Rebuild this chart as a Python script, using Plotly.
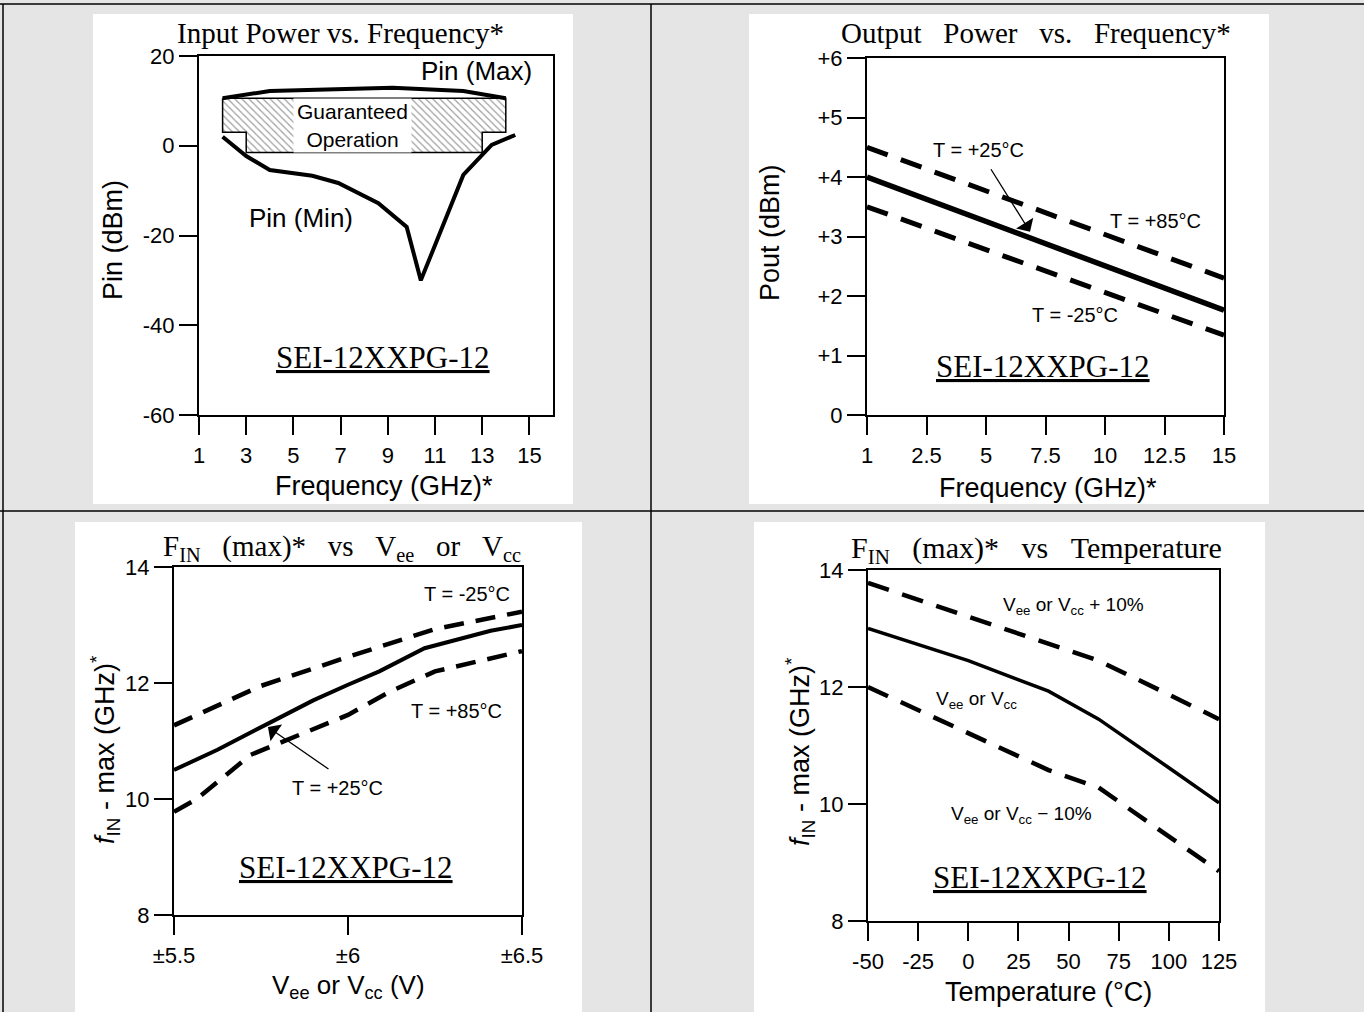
import numpy as np
import plotly.graph_objects as go

W, H = 1364, 1012
SANS = "Liberation Sans, Arial, sans-serif"
SERIF = "Liberation Serif, Times New Roman, serif"
NB = "\u00a0"
G3 = NB * 3

# ---------------- data ----------------
# Panel 1: Input Power vs. Frequency
p1_xticks = [1, 3, 5, 7, 9, 11, 13, 15]
p1_yticks = [20, 0, -20, -40, -60]
p1_max_freq = [2.0, 4.0, 9.2, 12.2, 14.0]
p1_max_pin = [10.6, 12.2, 12.9, 12.2, 10.6]
p1_min_freq = [2.0, 3.0, 4.0, 5.8, 6.9, 8.6, 9.8, 10.4, 12.2, 13.4, 14.4]
p1_min_pin = [2.0, -2.3, -5.4, -6.7, -8.3, -12.8, -18.1, -30.0, -6.5, 0.2, 2.4]
guar_freq = [2, 14, 14, 13, 13, 3, 3, 2, 2]
guar_pin = [10.6, 10.6, 3, 3, -1.5, -1.5, 3, 3, 10.6]

# Panel 2: Output Power vs. Frequency (equally spaced tick labels)
p2_tick_freq = [1, 2.5, 5, 7.5, 10, 12.5, 15]
p2_tick_text = ["1", "2.5", "5", "7.5", "10", "12.5", "15"]
p2_yticks = [0, 1, 2, 3, 4, 5, 6]
p2_ytext = ["0", "+1", "+2", "+3", "+4", "+5", "+6"]
p2_freq = [1, 15]
p2_t25 = [4.0, 1.76]
p2_t85 = [4.5, 2.3]
p2_tm25 = [3.5, 1.34]

# Panel 3: FIN(max) vs Vee or Vcc
p3_xticks = [5.5, 6.0, 6.5]
p3_xtext = ["±5.5", "±6", "±6.5"]
p3_yticks = [8, 10, 12, 14]
p3_v_m25 = [5.5, 5.75, 6.0, 6.25, 6.5]
p3_f_m25 = [11.27, 11.95, 12.45, 12.93, 13.23]
p3_v_25 = [5.5, 5.625, 5.78, 5.9, 6.0, 6.09, 6.22, 6.41, 6.5]
p3_f_25 = [10.5, 10.85, 11.33, 11.7, 11.97, 12.2, 12.6, 12.9, 13.0]
p3_v_85 = [5.5, 5.565, 5.72, 6.0, 6.12, 6.25, 6.5]
p3_f_85 = [9.78, 10.0, 10.76, 11.45, 11.85, 12.2, 12.55]

# Panel 4: FIN(max) vs Temperature
p4_xticks = [-50, -25, 0, 25, 50, 75, 100, 125]
p4_yticks = [8, 10, 12, 14]
p4_t_hi = [-50, 0, 40, 65, 100, 125]
p4_f_hi = [13.78, 13.2, 12.75, 12.45, 11.87, 11.45]
p4_t_nom = [-50, -25, 0, 40, 65, 100, 125]
p4_f_nom = [13.0, 12.73, 12.45, 11.93, 11.45, 10.62, 10.02]
p4_t_lo = [-50, 0, 40, 65, 100, 125]
p4_f_lo = [12.0, 11.22, 10.58, 10.28, 9.45, 8.85]

# ---------------- layout helpers ----------------
def PX(x):
    return x / W

def PY(y):
    return 1 - y / H

# plot-area boxes in pixels: left, right, top, bottom
BOX = {1: (199, 553, 56, 415), 2: (867, 1224, 58, 415),
       3: (174, 522, 567, 915), 4: (868, 1219, 570, 921)}
RANGES = {1: ([1, 16], [-60, 20]), 2: ([0, 6], [0, 6]),
          3: ([5.5, 6.5], [8, 14]), 4: ([-50, 125], [8, 14])}
p2_pos = list(range(len(p2_tick_freq)))
XT = {1: (p1_xticks, [str(v) for v in p1_xticks]),
      2: (p2_pos, p2_tick_text),
      3: (p3_xticks, p3_xtext),
      4: (p4_xticks, [str(v) for v in p4_xticks])}
YT = {1: (p1_yticks, [str(v) for v in p1_yticks]),
      2: (p2_yticks, p2_ytext),
      3: (p3_yticks, [str(v) for v in p3_yticks]),
      4: (p4_yticks, [str(v) for v in p4_yticks])}

def p2x(freqs):
    return list(np.interp(freqs, p2_tick_freq, p2_pos))

fig = go.Figure()

def ax(n):
    return "" if n == 1 else str(n)

def line_trace(x, y, n, width=4, dash=None):
    return go.Scatter(x=x, y=y, mode="lines", xaxis="x" + ax(n), yaxis="y" + ax(n),
                      line=dict(color="black", width=width, dash=dash),
                      hoverinfo="skip", showlegend=False)

# Panel 1 traces
fig.add_trace(go.Scatter(x=guar_freq, y=guar_pin, mode="lines", fill="toself",
                         fillcolor="white",
                         fillpattern=dict(shape="\\", fgcolor="#333333", bgcolor="white",
                                          size=5, solidity=0.22),
                         line=dict(width=0), hoverinfo="skip", showlegend=False))
fig.add_trace(line_trace(guar_freq, guar_pin, 1, width=1.5))
fig.add_trace(line_trace(p1_max_freq, p1_max_pin, 1, width=4))
fig.add_trace(line_trace(p1_min_freq, p1_min_pin, 1, width=4))

# Panel 2 traces
DASH2 = "22px,14px"
fig.add_trace(line_trace(p2x(p2_freq), p2_t85, 2, width=5, dash=DASH2))
fig.add_trace(line_trace(p2x(p2_freq), p2_t25, 2, width=5.5))
fig.add_trace(line_trace(p2x(p2_freq), p2_tm25, 2, width=5, dash=DASH2))

# Panel 3 traces
DASH3 = "20px,12px"
fig.add_trace(line_trace(p3_v_m25, p3_f_m25, 3, width=4.5, dash=DASH3))
fig.add_trace(line_trace(p3_v_25, p3_f_25, 3, width=4))
fig.add_trace(line_trace(p3_v_85, p3_f_85, 3, width=4.5, dash=DASH3))

# Panel 4 traces
DASH4 = "22px,14px"
fig.add_trace(line_trace(p4_t_hi, p4_f_hi, 4, width=4.5, dash=DASH4))
fig.add_trace(line_trace(p4_t_nom, p4_f_nom, 4, width=3.5))
fig.add_trace(line_trace(p4_t_lo, p4_f_lo, 4, width=4.5, dash=DASH4))

# Axes
tickfont = dict(family=SANS, size=22, color="black")
layout_axes = {}
for n in range(1, 5):
    l, r, t, b = BOX[n]
    xr, yr = RANGES[n]
    xv, xtxt = XT[n]
    yv, ytxt = YT[n]
    common = dict(showgrid=False, zeroline=False, tickwidth=2, tickcolor="black",
                  ticklen=18, tickmode="array", fixedrange=True, automargin=False)
    layout_axes["xaxis" + ax(n)] = dict(
        domain=[PX(l), PX(r)], range=xr, anchor="y" + ax(n), tickvals=xv, ticktext=xtxt,
        ticks="outside", showline=True, linecolor="black", linewidth=2, mirror=True,
        tickfont=tickfont, ticklabelstandoff=2, **common)
    layout_axes["yaxis" + ax(n)] = dict(
        domain=[PY(b), PY(t)], range=yr, anchor="x" + ax(n), tickvals=yv, ticktext=ytxt,
        ticks="outside", showline=True, linecolor="black", linewidth=2, mirror=True,
        tickfont=tickfont, ticklabelstandoff=0, **common)
    # overlay axes to draw the inner half of each cross tick
    layout_axes["xaxis" + str(n + 4)] = dict(
        overlaying="x" + ax(n), anchor="y" + ax(n), range=xr, tickvals=xv,
        ticks="inside", showticklabels=False, showline=False, **common)
    layout_axes["yaxis" + str(n + 4)] = dict(
        overlaying="y" + ax(n), anchor="x" + ax(n), range=yr, tickvals=yv,
        ticks="inside", showticklabels=False, showline=False, **common)

# Text annotations
def txt(x, y, text, size, family=SANS, angle=0, **kw):
    d = dict(x=PX(x), y=PY(y), xref="paper", yref="paper", text=text, showarrow=False,
             font=dict(family=family, size=size, color="black"),
             xanchor="center", yanchor="middle", textangle=angle)
    d.update(kw)
    return d

ann = [
    # panel 1
    txt(340, 33, "Input Power vs. Frequency*", 29, SERIF),
    txt(113, 240, "Pin (dBm)", 27, angle=-90),
    txt(384, 486, "Frequency (GHz)*", 27),
    txt(476, 71, "Pin (Max)", 26),
    txt(301, 218, "Pin (Min)", 26),
    txt(383, 357, "<u>SEI-12XXPG-12</u>", 31, SERIF),
    dict(x=7.5, y=(guar_pin[0] + guar_pin[4]) / 2, xref="x", yref="y",
         text="Guaranteed<br>Operation", showarrow=False, bgcolor="white",
         width=115, height=51, font=dict(family=SANS, size=21, color="black")),
    # panel 2
    txt(1036, 33, f"Output{G3}Power{G3}vs.{G3}Frequency*", 29, SERIF),
    txt(770, 233, "Pout (dBm)", 27, angle=-90),
    txt(1048, 488, "Frequency (GHz)*", 27),
    txt(978, 150, "T = +25°C", 20),
    txt(1155, 221, "T = +85°C", 20),
    txt(1075, 315, "T = -25°C", 20),
    txt(1043, 366, "<u>SEI-12XXPG-12</u>", 31, SERIF),
    dict(x=p2x([6.85])[0], y=3.08, xref="x2", yref="y2", text="", showarrow=True,
         ax=-40, ay=-64, arrowhead=1, arrowsize=2.6, arrowwidth=1.3, arrowcolor="black"),
    # panel 3
    txt(342, 548, f"F<sub>IN</sub>{G3}(max)*{G3}vs{G3}V<sub>ee</sub>{G3}or{G3}V<sub>cc</sub>", 29, SERIF),
    txt(105, 750, "<i>f</i><sub>IN</sub> - max (GHz)<sup>*</sup>", 27, angle=-90),
    txt(348, 986, "V<sub>ee</sub> or V<sub>cc</sub> (V)", 26),
    txt(467, 594, "T = -25°C", 20),
    txt(456, 711, "T = +85°C", 20),
    txt(337, 788, "T = +25°C", 20),
    txt(346, 867, "<u>SEI-12XXPG-12</u>", 31, SERIF),
    dict(x=5.77, y=11.24, xref="x3", yref="y3", text="", showarrow=True,
         ax=62, ay=43, arrowhead=1, arrowsize=2.6, arrowwidth=1.3, arrowcolor="black"),
    # panel 4
    txt(1036, 550, f"F<sub>IN</sub>{G3}(max)*{G3}vs{G3}Temperature", 30, SERIF),
    txt(800, 752, "<i>f</i><sub>IN</sub> - max (GHz)<sup>*</sup>", 27, angle=-90),
    txt(1048, 992, "Temperature (°C)", 27),
    txt(1073, 606, "V<sub>ee</sub> or V<sub>cc</sub> + 10%", 19),
    txt(976, 700, "V<sub>ee</sub> or V<sub>cc</sub>", 19),
    txt(1021, 815, "V<sub>ee</sub> or V<sub>cc</sub> − 10%", 19),
    txt(1040, 877, "<u>SEI-12XXPG-12</u>", 31, SERIF),
]

# Page background: white panels on gray cells, table rules
shapes = []
for (l, r, t, b) in [(93, 573, 14, 504), (749, 1269, 14, 504),
                     (75, 582, 522, 1012), (754, 1265, 522, 1012)]:
    shapes.append(dict(type="rect", xref="paper", yref="paper", x0=PX(l), x1=PX(r),
                       y0=PY(b), y1=PY(t), fillcolor="white", line=dict(width=0),
                       layer="below"))
for (x0, y0, x1, y1) in [(0, 4, W, 4), (0, 511, W, 511), (3, 4, 3, H), (651, 4, 651, H)]:
    shapes.append(dict(type="line", xref="paper", yref="paper", x0=PX(x0), x1=PX(x1),
                       y0=PY(y0), y1=PY(y1), line=dict(color="black", width=1.5),
                       layer="below"))

fig.update_layout(
    width=W, height=H, autosize=False,
    margin=dict(l=0, r=0, t=0, b=0, pad=0, autoexpand=False),
    paper_bgcolor="#e5e5e5", plot_bgcolor="rgba(0,0,0,0)",
    showlegend=False, annotations=ann, shapes=shapes,
    font=dict(family=SANS, color="black"),
    **layout_axes,
)

fig.write_html("out.html", include_plotlyjs=True, config={"displayModeBar": False},
               post_script="document.body.style.margin='0';document.body.style.overflow='hidden';")
